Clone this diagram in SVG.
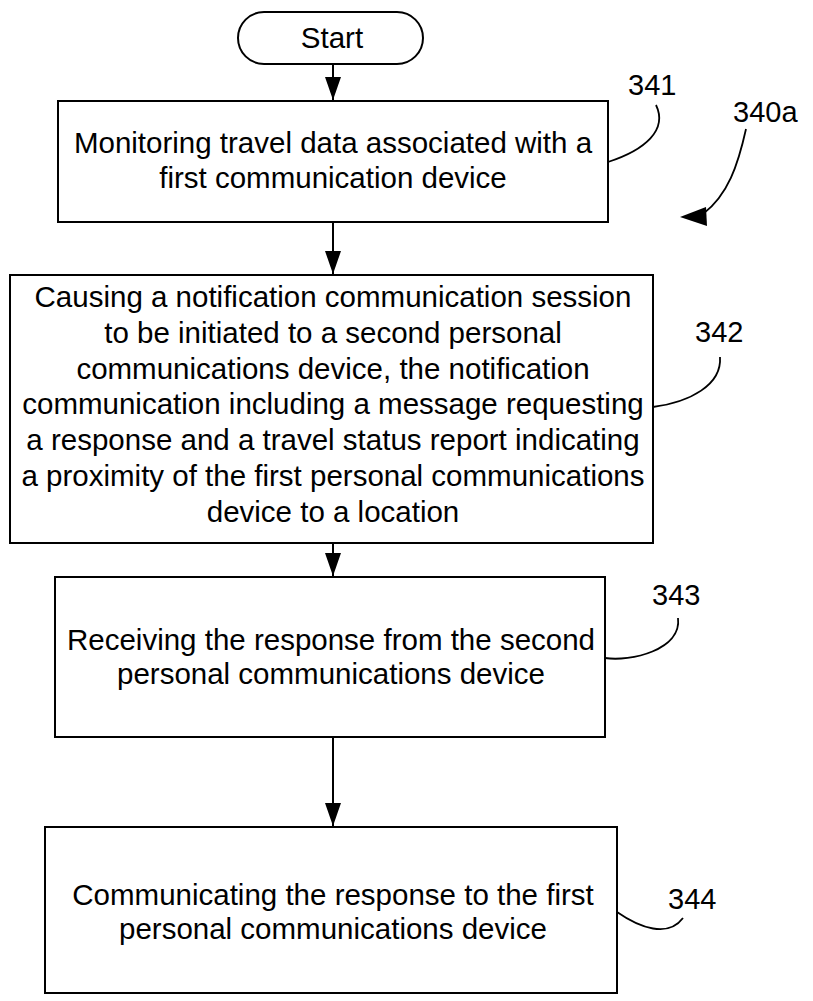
<svg xmlns="http://www.w3.org/2000/svg" width="813" height="1001" viewBox="0 0 813 1001">
<style>
.box{fill:#fff;stroke:#000;stroke-width:2}
.t{font-family:"Liberation Sans",Arial,sans-serif;font-size:29.5px;fill:#000;text-anchor:middle}
.lbl{font-family:"Liberation Sans",Arial,sans-serif;font-size:29px;fill:#000}
.ln{fill:none;stroke:#000;stroke-width:2}
.ld{fill:none;stroke:#000;stroke-width:1.8}
</style>
<defs>
<marker id="ah" markerUnits="userSpaceOnUse" markerWidth="23" markerHeight="16" refX="23" refY="8" orient="auto" viewBox="0 0 23 16">
<path d="M0,0 L23,8 L0,16 Z" fill="#000"/>
</marker>
</defs>
<rect width="813" height="1001" fill="#fff"/>
<g id="connectors">
<line class="ln" x1="333" y1="64" x2="333" y2="100" marker-end="url(#ah)"/>
<line class="ln" x1="333" y1="222" x2="333" y2="274" marker-end="url(#ah)"/>
<line class="ln" x1="333" y1="543" x2="333" y2="576" marker-end="url(#ah)"/>
<line class="ln" x1="333" y1="737" x2="333" y2="826" marker-end="url(#ah)"/>
</g>
<g id="start">
<rect class="box" x="238" y="12" width="185" height="52" rx="26" ry="26"/>
<text class="t" x="332" y="48">Start</text>
</g>
<g id="n341">
<rect class="box" x="58" y="101" width="550" height="121"/>
<text class="t" x="333" y="153">Monitoring travel data associated with a</text>
<text class="t" x="333" y="188">first communication device</text>
</g>
<g id="n342">
<rect class="box" x="10" y="275" width="643" height="268"/>
<text class="t" x="333" y="307">Causing a notification communication session</text>
<text class="t" x="333" y="343">to be initiated to a second personal</text>
<text class="t" x="333" y="379">communications device, the notification</text>
<text class="t" x="333" y="414">communication including a message requesting</text>
<text class="t" x="333" y="450">a response and a travel status report indicating</text>
<text class="t" x="333" y="486">a proximity of the first personal communications</text>
<text class="t" x="333" y="522">device to a location</text>
</g>
<g id="n343">
<rect class="box" x="55" y="577" width="550" height="160"/>
<text class="t" x="331" y="650">Receiving the response from the second</text>
<text class="t" x="331" y="684">personal communications device</text>
</g>
<g id="n344">
<rect class="box" x="45" y="827" width="572" height="166"/>
<text class="t" x="333" y="905">Communicating the response to the first</text>
<text class="t" x="333" y="939">personal communications device</text>
</g>
<g id="labels">
<path class="ld" d="M608,162 C645,150 668,130 656,105"/>
<text class="lbl" x="628" y="95">341</text>
<path class="ld" d="M746,129 C738,165 728,195 703,214"/>
<polygon points="680,217 706,207 707,226" fill="#000"/>
<text class="lbl" x="733" y="122">340a</text>
<path class="ld" d="M653,407 C690,402 722,385 720,357"/>
<text class="lbl" x="695" y="342">342</text>
<path class="ld" d="M605,658 C630,662 682,650 678,618"/>
<text class="lbl" x="652" y="605">343</text>
<path class="ld" d="M617,912 C640,928 668,938 683,918"/>
<text class="lbl" x="668" y="909">344</text>
</g>
</svg>
